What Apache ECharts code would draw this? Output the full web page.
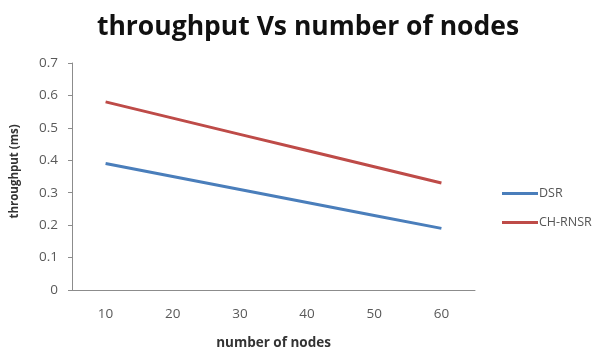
<!DOCTYPE html>
<html>
<head>
<meta charset="utf-8">
<script src="https://cdn.jsdelivr.net/npm/echarts@6/dist/echarts.min.js"></script>
<style>
  html, body { margin: 0; padding: 0; background: #fff; }
  #chart { width: 609px; height: 351px; }
</style>
</head>
<body>
<div id="chart"></div>
<script>
// Throughput (ms) for each routing protocol against network size
const nodeCounts = ['10', '20', '30', '40', '50', '60'];
const dsrThroughput = [0.39, 0.35, 0.31, 0.27, 0.23, 0.19];
const chRnsrThroughput = [0.58, 0.53, 0.48, 0.43, 0.38, 0.33];
const yTicks = [0, 0.1, 0.2, 0.3, 0.4, 0.5, 0.6, 0.7];

const chart = echarts.init(document.getElementById('chart'));
const labelFont = 'Open Sans, Liberation Sans, sans-serif';

chart.setOption({
  animation: false,
  backgroundColor: '#ffffff',
  title: {
    text: 'throughput Vs number of nodes',
    left: 303,
    textAlign: 'center',
    top: 9,
    textStyle: { fontFamily: labelFont, fontWeight: 'bold', fontSize: 26.5, color: '#111' }
  },
  legend: {
    orient: 'vertical',
    left: 497,
    top: 182,
    itemWidth: 36,
    itemHeight: 3,
    itemGap: 16,
    icon: 'rect',
    textStyle: { fontFamily: labelFont, fontSize: 12.5, color: '#555', padding: [0, 0, 0, -4] },
    data: ['DSR', 'CH-RNSR']
  },
  grid: { left: 72, right: 134, top: 63, bottom: 61, outerBoundsMode: 'none', containLabel: false },
  xAxis: {
    type: 'category',
    data: nodeCounts,
    boundaryGap: true,
    name: 'number of nodes',
    nameLocation: 'middle',
    nameGap: 46,
    nameTextStyle: { fontFamily: labelFont, fontWeight: 'bold', fontSize: 13.5, color: '#333' },
    axisLine: { lineStyle: { color: '#8c8c8c', width: 1 } },
    axisTick: { show: false },
    axisLabel: { fontFamily: labelFont, fontSize: 13.5, color: '#595959', margin: 17 }
  },
  yAxis: {
    type: 'value',
    min: yTicks[0],
    max: yTicks[yTicks.length - 1],
    interval: 0.1,
    name: 'throughput (ms)',
    nameLocation: 'middle',
    nameRotate: 90,
    nameGap: 51,
    nameTextStyle: { fontFamily: labelFont, fontWeight: 'bold', fontSize: 11.5, color: '#333', padding: [0, 0, 0, 10] },
    axisLine: { show: true, lineStyle: { color: '#8c8c8c', width: 1 } },
    axisTick: { show: true, length: 4, lineStyle: { color: '#8c8c8c' } },
    splitLine: { show: false },
    axisLabel: {
      fontFamily: labelFont, fontSize: 13.5, color: '#595959', margin: 14,
      formatter: v => String(Math.round(v * 10) / 10)
    }
  },
  series: [
    {
      name: 'DSR',
      type: 'line',
      data: dsrThroughput,
      showSymbol: false,
      symbol: 'none',
      lineStyle: { color: '#4a7ebb', width: 3 },
      itemStyle: { color: '#4a7ebb' }
    },
    {
      name: 'CH-RNSR',
      type: 'line',
      data: chRnsrThroughput,
      showSymbol: false,
      symbol: 'none',
      lineStyle: { color: '#be4b48', width: 3 },
      itemStyle: { color: '#be4b48' }
    }
  ]
});
</script>
</body>
</html>
